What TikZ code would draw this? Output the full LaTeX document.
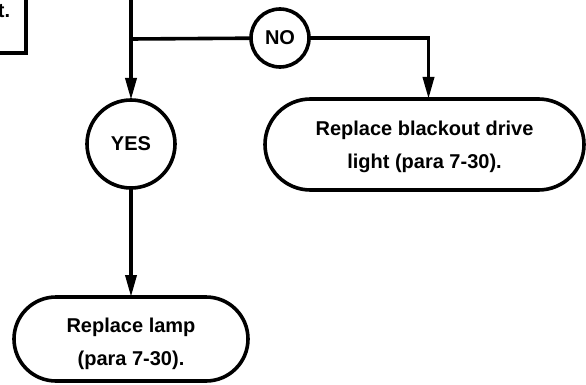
\documentclass[tikz,border=0pt]{standalone}
\usepackage{fontspec}
\setmainfont{Liberation Sans}
\usetikzlibrary{arrows.meta,shapes.misc}

\begin{document}
\begin{tikzpicture}[x=1pt,y=-1pt,line width=3.6pt,
  answer/.style={circle,draw,fill=white,inner sep=0pt,outer sep=0pt,font=\bfseries\fontsize{20}{24}\selectfont},
  action/.style={rounded rectangle,draw,fill=white,align=center,inner sep=0pt,outer sep=0pt,font=\bfseries\fontsize{20}{33}\selectfont},
  flow/.style={-{Triangle[length=22pt,width=11pt]}}]
\useasboundingbox (0,0) rectangle (586,385);
\clip (0,0) rectangle (586,385);
\node[draw,anchor=south east,minimum width=140pt,minimum height=110pt,outer sep=0pt] (check) at (26,53) {};
\node[anchor=base east,inner sep=0pt,font=\bfseries\fontsize{20}{24}\selectfont] (checktext) at (12,18) {t.};
\coordinate (top) at (131,-5);
\coordinate (split) at (131,39);
\node[answer,minimum size=58pt] (no) at (280,38) {NO};
\node[answer,minimum size=88pt] (yes) at (131,144) {YES};
\node[action,minimum width=319pt,minimum height=91pt] (blackout) at (424.5,144.5) {\rule{0pt}{19pt}Replace blackout drive\\light (para 7-30).};
\node[action,minimum width=234pt,minimum height=84pt] (lamp) at (131,339) {\rule{0pt}{25pt}Replace lamp\\(para 7-30).};
\draw (top) -- (split);
\draw (split) -- (no);
\draw[flow] (split) -- (yes);
\draw[flow] (no) -| ([xshift=4pt]blackout.north);
\draw[flow] (yes) -- (lamp);
\end{tikzpicture}
\end{document}
